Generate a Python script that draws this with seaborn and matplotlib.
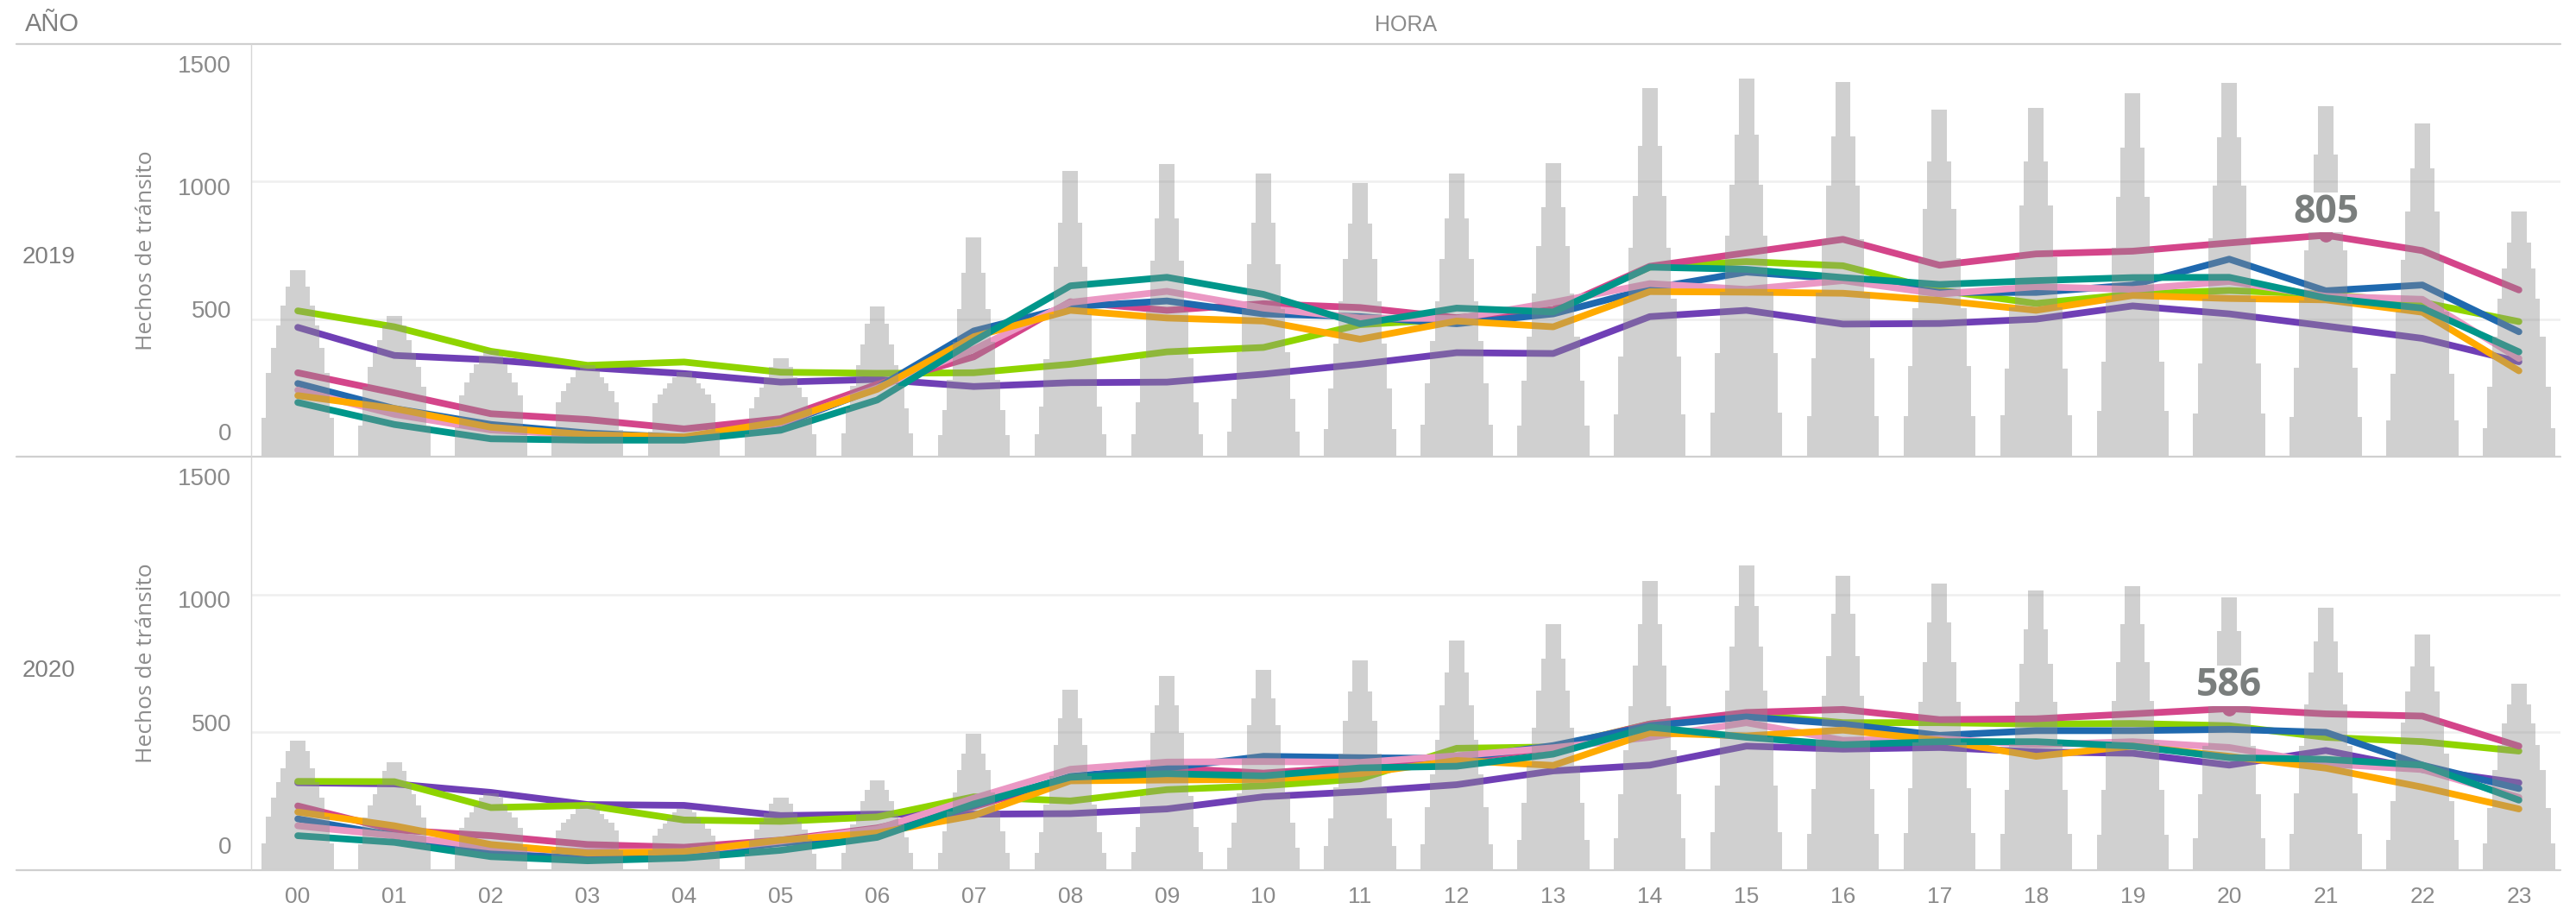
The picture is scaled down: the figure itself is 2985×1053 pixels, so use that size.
import matplotlib
matplotlib.use("Agg")
import matplotlib.pyplot as plt
import matplotlib.transforms as mtransforms
from matplotlib.lines import Line2D
from matplotlib import font_manager as fm
import numpy as np
import pandas as pd
import seaborn as sns

# ---------------- data ----------------
HOURS = list(range(24))
HOUR_LABELS = [f"{h:02d}" for h in HOURS]
YEARS = ["2019", "2020"]
DAYS = ["Domingo", "Sábado", "Viernes", "Jueves", "Miércoles", "Martes", "Lunes"]

COLORS = {
    "Domingo": "#6f3fb5",
    "Sábado": "#8fd400",
    "Viernes": "#d4458a",
    "Jueves": "#1f69af",
    "Miércoles": "#eb98c4",
    "Martes": "#ffaa00",
    "Lunes": "#00968a",
}

domingo_2019 = [470, 368, 352, 324, 302, 271, 281, 255, 269, 271, 300, 336, 378, 375, 509, 532, 482, 484, 500, 548, 519, 475, 430, 345]
sabado_2019 = [530, 472, 383, 332, 344, 307, 303, 305, 336, 381, 397, 480, 500, 532, 689, 709, 694, 605, 557, 591, 604, 590, 561, 491]
viernes_2019 = [305, 232, 156, 135, 101, 138, 263, 363, 563, 532, 556, 542, 505, 535, 692, 741, 790, 696, 737, 747, 777, 805, 749, 606]
jueves_2019 = [266, 175, 117, 86, 70, 115, 250, 457, 545, 566, 519, 509, 483, 519, 611, 671, 645, 597, 597, 624, 718, 603, 624, 454]
miercoles_2019 = [242, 154, 97, 78, 66, 122, 250, 390, 561, 601, 540, 504, 502, 561, 629, 608, 640, 591, 618, 608, 637, 583, 572, 357]
martes_2019 = [222, 175, 107, 80, 72, 127, 245, 436, 532, 504, 493, 427, 493, 472, 600, 598, 594, 568, 532, 586, 575, 570, 525, 312]
lunes_2019 = [197, 117, 65, 60, 60, 96, 206, 420, 621, 652, 590, 483, 540, 526, 689, 681, 651, 626, 640, 651, 652, 577, 540, 381]

domingo_2020 = [317, 313, 282, 238, 235, 198, 203, 203, 205, 222, 266, 285, 310, 360, 381, 450, 439, 445, 429, 424, 381, 434, 365, 317]
sabado_2020 = [322, 321, 227, 235, 182, 177, 193, 266, 251, 292, 306, 331, 442, 447, 530, 567, 535, 535, 530, 532, 524, 482, 466, 432]
viernes_2020 = [233, 146, 125, 93, 83, 109, 153, 230, 334, 371, 352, 376, 400, 445, 530, 572, 583, 546, 549, 567, 586, 567, 559, 450]
jueves_2020 = [186, 125, 62, 41, 57, 98, 125, 235, 340, 371, 413, 408, 405, 452, 524, 556, 530, 489, 506, 506, 511, 500, 381, 296]
miercoles_2020 = [161, 125, 83, 67, 67, 105, 150, 261, 366, 392, 394, 391, 415, 444, 482, 535, 471, 477, 455, 466, 445, 386, 365, 264]
martes_2020 = [211, 161, 93, 62, 67, 109, 135, 198, 324, 327, 329, 350, 398, 380, 498, 487, 508, 471, 413, 450, 413, 370, 301, 222]
lunes_2020 = [125, 101, 49, 34, 44, 72, 119, 240, 337, 350, 342, 371, 377, 421, 519, 482, 455, 466, 466, 450, 408, 402, 381, 254]

SERIES = {
    "2019": [domingo_2019, sabado_2019, viernes_2019, jueves_2019, miercoles_2019, martes_2019, lunes_2019],
    "2020": [domingo_2020, sabado_2020, viernes_2020, jueves_2020, miercoles_2020, martes_2020, lunes_2020],
}

rows = []
for year in YEARS:
    for day, vals in zip(DAYS, SERIES[year]):
        for h, v in zip(HOURS, vals):
            rows.append({"anio": year, "dia": day, "hora": h, "hechos": v})
df = pd.DataFrame(rows)

# ---------------- style ----------------
sns.set_theme(style="white")

def pick(*names):
    avail = {f.name for f in fm.fontManager.ttflist}
    for n in names:
        if n in avail:
            return n
    return "DejaVu Sans"

TAB_FONT = pick("Liberation Sans Narrow", "Liberation Sans", "Lato")
LBL_FONT = pick("Open Sans", "Noto Sans", "DejaVu Sans")
plt.rcParams["font.family"] = [TAB_FONT, "DejaVu Sans"]

W, H = 2985, 1053
fig = plt.figure(figsize=(W / 100, H / 100), dpi=100)
fig.patch.set_facecolor("white")

X_LEFT, X_RIGHT = 291, 2967
PANELS = {"2019": (51, 529), "2020": (529, 1008)}

GREY_TXT = "#8a8a8a"
STACK_WIDTHS = [0.745, 0.655, 0.555, 0.44, 0.35, 0.25, 0.16]
BAR_SCALE = 3.3
LINE_ORDER = ["Domingo", "Sábado", "Viernes", "Jueves", "Miércoles", "Martes", "Lunes"]

axes = {}
for year in YEARS:
    top, bot = PANELS[year]
    ax = fig.add_axes([X_LEFT / W, 1 - bot / H, (X_RIGHT - X_LEFT) / W, (bot - top) / H])
    axes[year] = ax
    d = df[df["anio"] == year]

    for v in (500, 1000):
        ax.axhline(v, color="#efefef", lw=1.8, zorder=0)

    sns.lineplot(data=d, x="hora", y="hechos", hue="dia", hue_order=LINE_ORDER,
                 palette=COLORS, lw=5.6, ax=ax, legend=False,
                 solid_capstyle="round", solid_joinstyle="round", zorder=2)

    # max point marker
    imax = d["hechos"].idxmax()
    hm, vm, dm = d.loc[imax, "hora"], d.loc[imax, "hechos"], d.loc[imax, "dia"]
    ax.plot([hm], [vm], "o", color=COLORS[dm], ms=11, zorder=3)

    ax.set_xlim(-0.483, 23.43)
    ax.set_ylim(0, 1500)
    ax.set_yticks([])
    ax.set_xlabel("")
    ax.set_ylabel("")
    for s in ax.spines.values():
        s.set_visible(False)
    if year == "2020":
        ax.set_xticks(HOURS, HOUR_LABELS)
        ax.tick_params(axis="x", length=0, pad=14, labelsize=19, labelcolor=GREY_TXT)
    else:
        ax.set_xticks([])

    # stacked grey bars on hidden secondary axis
    tw = ax.twinx()
    tw.set_ylim(0, 1500 * BAR_SCALE)
    tw.set_xlim(ax.get_xlim())
    tw.axis("off")
    bottoms = np.zeros(len(HOURS))
    for day, w in zip(DAYS, STACK_WIDTHS):
        vals = np.array(d[d["dia"] == day].sort_values("hora")["hechos"], dtype=float)
        tw.bar(HOURS, vals, width=w, bottom=bottoms, color="#8f8f8f", alpha=0.42,
               edgecolor="none", linewidth=0, antialiased=False, zorder=1)
        bottoms += vals

    # max label with white box
    tw.annotate(f"{vm}", xy=(hm, vm), xycoords=ax.transData, xytext=(0, 19),
                textcoords="offset points", ha="center", va="center",
                fontsize=32, fontweight="bold", color="#7a7e7d", family=LBL_FONT,
                bbox=dict(boxstyle="square,pad=0.02", fc="white", ec="none"), zorder=10)

    # y tick labels (Tableau-style inward shift)
    trans = mtransforms.blended_transform_factory(fig.transFigure, ax.transData)
    for v in (0, 500, 1000, 1500):
        ax.text(268 / W, v + (750 - v) * 0.107, str(v), transform=trans, ha="right",
                va="center", fontsize=20, color=GREY_TXT, clip_on=False)

    # year and axis title
    fig.text(26 / W, 1 - ((top + bot) / 2 + 8) / H, year, ha="left", va="center",
             fontsize=20, color="#7f7f7f")
    fig.text(170 / W, 1 - ((top + bot) / 2) / H, "Hechos de tránsito", rotation=90,
             ha="center", va="center", fontsize=19, color="#8c8c8c", family=LBL_FONT)

# header texts
fig.text(29 / W, 1 - 28 / H, "AÑO", ha="left", va="center", fontsize=21, color="#7f7f7f")
fig.text((X_LEFT + X_RIGHT) / 2 / W, 1 - 29 / H, "HORA", ha="center", va="center",
         fontsize=18, color="#8a8a8a")

# separators
for y in (51, 529, 1008):
    fig.add_artist(Line2D([19 / W, X_RIGHT / W], [1 - y / H, 1 - y / H],
                          color="#cfcfcf", lw=1.6, transform=fig.transFigure))
fig.add_artist(Line2D([X_LEFT / W, X_LEFT / W], [1 - 51 / H, 1 - 1008 / H],
                      color="#d6d6d6", lw=1.0, transform=fig.transFigure))

fig.savefig("out.png", dpi=100, facecolor="white")
